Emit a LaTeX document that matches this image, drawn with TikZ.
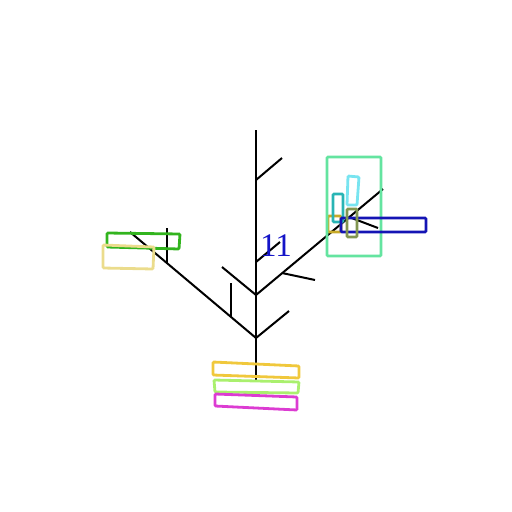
\documentclass[tikz,border=0pt]{standalone}
\usepackage{xcolor}
\usepackage{fontspec}
\newfontfamily\labelfont{Liberation Serif}
\definecolor{mint}{RGB}{100,228,160}
\definecolor{skycyan}{RGB}{120,228,240}
\definecolor{tealbox}{RGB}{40,180,180}
\definecolor{olivebox}{RGB}{130,150,80}
\definecolor{navybox}{RGB}{20,20,180}
\definecolor{goldbox}{RGB}{200,170,40}
\definecolor{leafgreen}{RGB}{50,180,30}
\definecolor{khaki}{RGB}{235,220,140}
\definecolor{sunyellow}{RGB}{240,200,60}
\definecolor{limegreen}{RGB}{170,240,110}
\definecolor{magentabox}{RGB}{220,60,210}
\definecolor{labelblue}{RGB}{20,20,200}

\begin{document}
\begin{tikzpicture}[x=1pt, y=-1pt,
  stem/.style={line width=2pt, black},
  box/.style={line width=2.8pt, rounded corners=1pt}]
  \useasboundingbox (0,0) rectangle (512,512);
  % Trunk and joints
  \coordinate (top) at (256,130);
  \coordinate (base) at (256,382);
  \coordinate (j1) at (256,180);
  \coordinate (j2) at (256,262);
  \coordinate (j3) at (256,295);
  \coordinate (j4) at (256,338);
  \draw[stem] (top) -- (base);
  % upper twigs
  \draw[stem] (j1) -- (282,158);
  \draw[stem] (j2) -- (280,242);
  \draw[stem] (j3) -- (222,267);
  % right limb
  \coordinate (rtip) at (383,189);
  \draw[stem] (j3) -- (rtip);
  \draw[stem] (282,273) -- (315,280);
  \draw[stem] (349,217) -- (378,228);
  % left limb
  \coordinate (ltip) at (130,232);
  \draw[stem] (j4) -- (ltip);
  \draw[stem] (j4) -- (289,311);
  \draw[stem] (231,317) -- (231,283);
  \draw[stem] (167,263) -- (167,228);
  % Label
  \node[text=labelblue, font=\labelfont\fontsize{33}{33}\selectfont] (num) at (276,246) {11};
  % Right cluster of boxes
  \draw[box, goldbox] (328,216) rectangle (341,232);
  \draw[box, mint] (327,157) rectangle (381,256);
  \draw[box, skycyan] (348,176) -- (359,177) -- (357,205) -- (347,205) -- cycle;
  \draw[box, tealbox] (333,194) rectangle (343,222);
  \draw[box, navybox] (341,218) rectangle (426,232);
  \draw[box, olivebox] (347,209) rectangle (357,237);
  % Left boxes
  \draw[box, leafgreen] (107,233) -- (180,234) -- (179,249) -- (107,247) -- cycle;
  \draw[box, khaki] (103,245) -- (154,247) -- (153,269) -- (103,268) -- cycle;
  % Bottom boxes
  \draw[box, sunyellow] (213,362) -- (299,366) -- (299,378) -- (213,375) -- cycle;
  \draw[box, limegreen] (214,380) -- (299,382) -- (298,393) -- (215,392) -- cycle;
  \draw[box, magentabox] (215,394) -- (297,397) -- (297,410) -- (215,406) -- cycle;
\end{tikzpicture}
\end{document}
